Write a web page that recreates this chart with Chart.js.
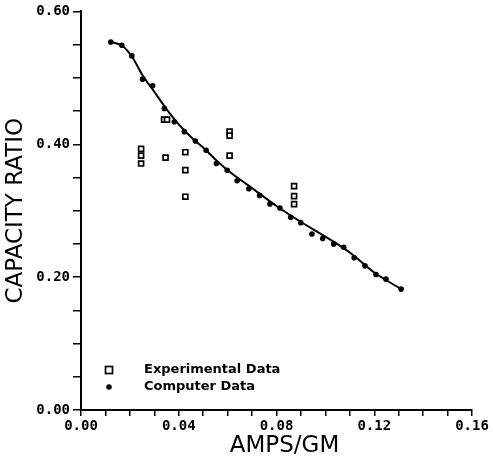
<!DOCTYPE html>
<html>
<head>
<meta charset="utf-8">
<script src="https://cdn.jsdelivr.net/npm/chart.js@4.4.1/dist/chart.umd.min.js"></script>
<style>
  html, body { margin: 0; padding: 0; background: #fff; }
  #wrap { width: 493px; height: 459px; }
</style>
</head>
<body>
<div id="wrap"><canvas id="capChart"></canvas></div>
<script>
// experimental data (open squares)
var exp_x = [0.0246, 0.0246, 0.0246, 0.0340, 0.0352, 0.0346, 0.0427, 0.0427, 0.0427, 0.0608, 0.0608, 0.0608, 0.0872, 0.0872, 0.0872];
var exp_y = [0.393, 0.383, 0.371, 0.437, 0.437, 0.380, 0.388, 0.361, 0.321, 0.419, 0.413, 0.383, 0.337, 0.322, 0.310];

// computer data (dots)
var cmp_x = [0.0122, 0.0167, 0.0208, 0.0252, 0.0293, 0.0341, 0.0382, 0.0423, 0.0468, 0.0512,
             0.0554, 0.0598, 0.0639, 0.0687, 0.0731, 0.0773, 0.0814, 0.0858, 0.0899, 0.0945,
             0.0989, 0.1034, 0.1075, 0.1118, 0.1162, 0.1207, 0.1248, 0.1310];
var cmp_y = [0.554, 0.549, 0.533, 0.498, 0.488, 0.454, 0.434, 0.419, 0.405, 0.391,
             0.371, 0.361, 0.345, 0.333, 0.323, 0.310, 0.304, 0.290, 0.282, 0.265,
             0.258, 0.250, 0.245, 0.229, 0.217, 0.204, 0.197, 0.182];

// smooth curve through the computer data
var fit_x = [0.0122, 0.0170, 0.0210, 0.0250, 0.0300, 0.0350, 0.0400, 0.0450, 0.0500, 0.0550, 0.0600, 0.0700, 0.0800, 0.0900, 0.1000, 0.1100, 0.1200, 0.1310];
var fit_y = [0.554, 0.548, 0.531, 0.505, 0.479, 0.453, 0.430, 0.411, 0.395, 0.377, 0.361, 0.334, 0.307, 0.283, 0.261, 0.237, 0.207, 0.182];

var x_ticks = [0.00, 0.04, 0.08, 0.12, 0.16];
var y_ticks = [0.00, 0.20, 0.40, 0.60];
var legend_labels = ['Experimental Data', 'Computer Data'];

function pts(xs, ys){
    var out = [];
    for (var i = 0; i < xs.length; i++) out.push({x: xs[i], y: ys[i]});
    return out;
}

function isMajor(v, list){
    for (var i = 0; i < list.length; i++) if (Math.abs(v - list[i]) < 1e-6) return true;
    return false;
}

const tickFont = {family: 'DejaVu Sans Mono', size: 14, weight: 'bold'};

// axis titles + legend drawn in place
const extras = {
    id: 'extras',
    afterDraw(chart){
        const ctx = chart.ctx;
        const a = chart.chartArea;
        ctx.save();
        ctx.fillStyle = '#000';
        ctx.font = '23px "DejaVu Sans"';
        ctx.textAlign = 'center';
        ctx.textBaseline = 'middle';
        ctx.fillText('AMPS/GM', (a.left + a.right) / 2 + 8, 446);
        ctx.translate(16, (a.top + a.bottom) / 2);
        ctx.rotate(-Math.PI / 2);
        ctx.fillText('CAPACITY RATIO', 0, 0);
        ctx.restore();

        // legend
        ctx.save();
        const lx = 109, ly = 370, gap = 17;
        ctx.strokeStyle = '#000';
        ctx.lineWidth = 1.7;
        ctx.fillStyle = '#fff';
        ctx.fillRect(lx - 3.5, ly - 3.5, 7, 7);
        ctx.strokeRect(lx - 3.5, ly - 3.5, 7, 7);
        ctx.fillStyle = '#000';
        ctx.beginPath();
        ctx.arc(lx, ly + gap, 2.8, 0, Math.PI * 2);
        ctx.fill();
        ctx.font = 'bold 13px "DejaVu Sans"';
        ctx.textAlign = 'left';
        ctx.textBaseline = 'middle';
        ctx.fillText(legend_labels[0], 144, ly);
        ctx.fillText(legend_labels[1], 144, ly + gap);
        ctx.restore();
    }
};

const ctx = document.getElementById('capChart').getContext('2d');
const capChart = new Chart(ctx, {
    type: 'scatter',
    data: {
        datasets: [{
            label: 'fit',
            data: pts(fit_x, fit_y),
            showLine: true,
            borderColor: '#000',
            borderWidth: 2,
            pointRadius: 0,
            cubicInterpolationMode: 'monotone',
            order: 3,
        }, {
            label: legend_labels[1],
            data: pts(cmp_x, cmp_y),
            pointStyle: 'circle',
            pointRadius: 2.8,
            backgroundColor: '#000',
            borderColor: '#000',
            borderWidth: 0,
            order: 2,
        }, {
            label: legend_labels[0],
            data: pts(exp_x, exp_y),
            pointStyle: 'rect',
            pointRadius: 3.5,
            backgroundColor: '#fff',
            borderColor: '#000',
            borderWidth: 1.7,
            order: 1,
        }]
    },
    options: {
        responsive: true,
        maintainAspectRatio: false,
        animation: false,
        layout: {padding: {left: 0, right: 21, top: 11, bottom: 0}},
        plugins: {
            legend: {display: false},
            tooltip: {enabled: false},
        },
        scales: {
            x: {
                type: 'linear',
                min: 0,
                max: 0.16,
                afterFit: function(s){ s.height = 49; },
                ticks: {
                    stepSize: 0.01,
                    autoSkip: false,
                    maxRotation: 0,
                    color: '#000',
                    font: tickFont,
                    padding: 2,
                    callback: function(v){ return isMajor(v, x_ticks) ? v.toFixed(2) : ''; }
                },
                grid: {drawOnChartArea: false, color: '#000', tickLength: 6, lineWidth: 1.5},
                border: {color: '#000', width: 2},
            },
            y: {
                type: 'linear',
                min: 0,
                max: 0.60,
                afterFit: function(s){ s.width = 81; },
                ticks: {
                    stepSize: 0.05,
                    autoSkip: false,
                    color: '#000',
                    font: tickFont,
                    padding: 3,
                    callback: function(v){ return isMajor(v, y_ticks) ? v.toFixed(2) : ''; }
                },
                grid: {drawOnChartArea: false, color: '#000', tickLength: 8, lineWidth: 1.5},
                border: {color: '#000', width: 2},
            }
        }
    },
    plugins: [extras]
});
</script>
</body>
</html>
